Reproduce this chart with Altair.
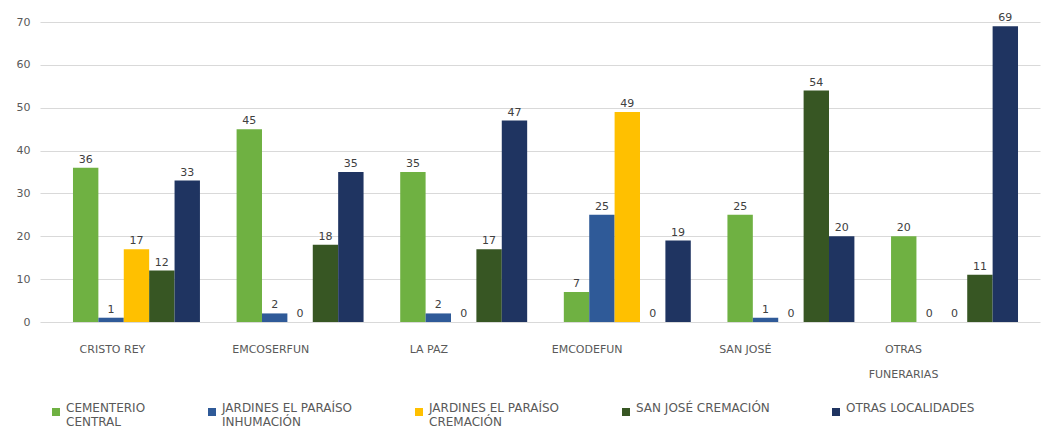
import altair as alt
import pandas as pd

funerarias = ["CRISTO REY", "EMCOSERFUN", "LA PAZ", "EMCODEFUN", "SAN JOSÉ", "OTRAS FUNERARIAS"]
series = [
    "CEMENTERIO CENTRAL",
    "JARDINES EL PARAÍSO INHUMACIÓN",
    "JARDINES EL PARAÍSO CREMACIÓN",
    "SAN JOSÉ CREMACIÓN",
    "OTRAS LOCALIDADES",
]
cementerio_central = [36, 45, 35, 7, 25, 20]
jardines_inhumacion = [1, 2, 2, 25, 1, 0]
jardines_cremacion = [17, 0, 0, 49, 0, 0]
san_jose_cremacion = [12, 18, 17, 0, 54, 11]
otras_localidades = [33, 35, 47, 19, 20, 69]
colors = ["#6FB142", "#2F5A98", "#FFC000", "#375623", "#1F3461"]

values = [cementerio_central, jardines_inhumacion, jardines_cremacion,
          san_jose_cremacion, otras_localidades]
rows = []
for s, vals in zip(series, values):
    for f, v in zip(funerarias, vals):
        rows.append({"funeraria": f, "serie": s, "valor": v})
df = pd.DataFrame(rows)

FONT = "DejaVu Sans"

x_label_expr = "datum.label == 'OTRAS FUNERARIAS' ? ['OTRAS', 'FUNERARIAS'] : datum.label"
names_js = "[" + ",".join("'" + f + "'" for f in funerarias) + "]"
label_offset_expr = "-(24 + 5.4 * indexof(" + names_js + ", datum.value))"
legend_label_expr = (
    "datum.label == 'CEMENTERIO CENTRAL' ? ['CEMENTERIO', 'CENTRAL'] : "
    "datum.label == 'JARDINES EL PARAÍSO INHUMACIÓN' ? ['JARDINES EL PARAÍSO', 'INHUMACIÓN'] : "
    "datum.label == 'JARDINES EL PARAÍSO CREMACIÓN' ? ['JARDINES EL PARAÍSO', 'CREMACIÓN'] : "
    "[datum.label, ' ']"
)

base = alt.Chart(df).encode(
    x=alt.X(
        "funeraria:N",
        sort=funerarias,
        title=None,
        scale=alt.Scale(paddingInner=0.224, paddingOuter=0.168, align=0.6),
        axis=alt.Axis(
            labelAngle=0, domain=False, ticks=False, labelPadding=21,
            labelExpr=x_label_expr, labelFont=FONT, labelFontSize=11,
            labelColor="#595959", labelLineHeight=25, grid=False,
            labelOffset={"condition": {"test": "false", "value": 0},
                         "expr": label_offset_expr},
        ),
    ),
    xOffset=alt.XOffset("serie:N", sort=series, scale=alt.Scale(paddingInner=0)),
    y=alt.Y(
        "valor:Q",
        title=None,
        scale=alt.Scale(domain=[0, 70], nice=False),
        axis=alt.Axis(
            values=[0, 10, 20, 30, 40, 50, 60, 70], domain=False, ticks=False,
            labelPadding=10, labelFont=FONT, labelFontSize=11, labelColor="#595959",
            gridColor="#D9D9D9", gridWidth=1.2,
        ),
    ),
)

bars = base.mark_bar().encode(
    color=alt.Color(
        "serie:N",
        sort=series,
        scale=alt.Scale(domain=series, range=colors),
        legend=alt.Legend(
            title=None, orient="none", direction="horizontal", columns=5,
            legendX=10, legendY=384, symbolType="square", symbolSize=64,
            symbolStrokeWidth=0, labelFont=FONT, labelFontSize=12,
            labelColor="#595959", labelExpr=legend_label_expr,
            labelBaseline="alphabetic",
            columnPadding=60, padding=0, labelLimit=300, labelOffset=4,
        ),
    )
)

labels = base.mark_text(dy=-8, font=FONT, fontSize=11, color="#404040").encode(
    text=alt.Text("valor:Q")
)

chart = (
    alt.layer(bars, labels)
    .properties(
        width=1000,
        height=300,
        autosize=alt.AutoSizeParams(type="none"),
        padding={"left": 32, "top": 14, "right": 1, "bottom": 108},
        view=alt.ViewBackground(strokeOpacity=0, strokeWidth=0),
    )
    .configure_view(strokeWidth=0, strokeOpacity=0)
    .configure(background="white")
)

chart.save("out.html", embed_options={"renderer": "svg", "actions": False})
